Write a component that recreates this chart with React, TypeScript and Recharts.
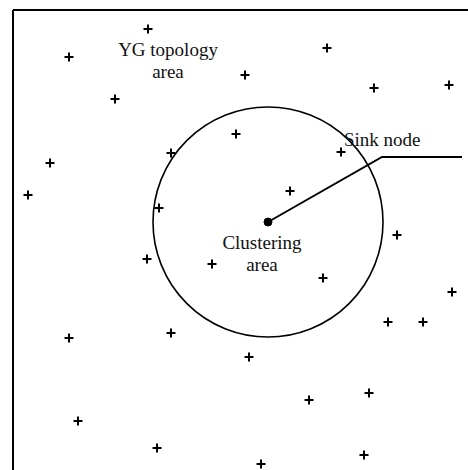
import { ScatterChart, Scatter, XAxis, YAxis, ReferenceDot } from 'recharts'

// field coordinates (origin at top-left corner of the field box, y grows downward)
const NODES = [
  { x: 135, y: 19 }, { x: 56, y: 47 }, { x: 102, y: 89 }, { x: 158, y: 143 },
  { x: 37, y: 153 }, { x: 15, y: 185 }, { x: 146, y: 198 }, { x: 223, y: 124 },
  { x: 314, y: 38 }, { x: 232, y: 65 }, { x: 361, y: 78 }, { x: 436, y: 75 },
  { x: 328, y: 142 }, { x: 277, y: 181 }, { x: 384, y: 225 }, { x: 134, y: 249 },
  { x: 199, y: 254 }, { x: 56, y: 328 }, { x: 158, y: 323 }, { x: 65, y: 411 },
  { x: 144, y: 438 }, { x: 310, y: 268 }, { x: 439, y: 282 }, { x: 375, y: 312 },
  { x: 410, y: 312 }, { x: 236, y: 347 }, { x: 296, y: 390 }, { x: 356, y: 383 },
  { x: 248, y: 454 }, { x: 351, y: 445 },
]

const SINK = { x: 255, y: 212 }
const CLUSTER_RADIUS = 115

const SINK_LEADER = [
  { x: 255, y: 212 },
  { x: 369, y: 147 },
  { x: 449, y: 147 },
]

const LABELS = [
  { x: 155, y: 46, text: 'YG topology', anchor: 'middle' },
  { x: 155, y: 68, text: 'area', anchor: 'middle' },
  { x: 331, y: 136, text: 'Sink node', anchor: 'start' },
  { x: 249, y: 239, text: 'Clustering', anchor: 'middle' },
  { x: 249, y: 261, text: 'area', anchor: 'middle' },
]

const FONT = '"Liberation Serif", "Times New Roman", serif'

function Plus(props: any) {
  const { cx, cy } = props
  if (cx == null || cy == null) return null
  const s = 4.5
  return (
    <path
      d={`M${cx - s},${cy}H${cx + s}M${cx},${cy - s}V${cy + s}`}
      stroke="#000"
      strokeWidth={2}
      fill="none"
    />
  )
}

function LabelText(props: any) {
  const { cx, cy, payload } = props
  return (
    <text x={cx} y={cy} textAnchor={payload.anchor} fontFamily={FONT} fontSize={19} fill="#111">
      {payload.text}
    </text>
  )
}

export default function App() {
  return (
    <div style={{ position: 'absolute', left: 0, top: 0, background: '#fff' }}>
      <ScatterChart width={468} height={470} margin={{ top: 9, right: 0, bottom: 0, left: 12 }}>
        <XAxis
          type="number"
          dataKey="x"
          orientation="top"
          domain={[0, 455]}
          allowDataOverflow
          height={1}
          tick={false}
          tickLine={false}
          axisLine={{ stroke: '#000', strokeWidth: 2 }}
        />
        <YAxis
          type="number"
          dataKey="y"
          domain={[0, 460]}
          reversed
          allowDataOverflow
          width={1}
          tick={false}
          tickLine={false}
          axisLine={{ stroke: '#000', strokeWidth: 2 }}
        />
        <ReferenceDot
          x={SINK.x}
          y={SINK.y}
          r={CLUSTER_RADIUS}
          fill="none"
          stroke="#000"
          strokeWidth={1.6}
        />
        <Scatter
          data={SINK_LEADER}
          line={{ stroke: '#000', strokeWidth: 2 }}
          lineType="joint"
          shape={() => null}
          isAnimationActive={false}
        />
        <ReferenceDot x={SINK.x} y={SINK.y} r={4} fill="#000" stroke="#000" />
        <Scatter data={NODES} shape={<Plus />} isAnimationActive={false} />
        <Scatter data={LABELS} shape={<LabelText />} isAnimationActive={false} />
      </ScatterChart>
    </div>
  )
}
